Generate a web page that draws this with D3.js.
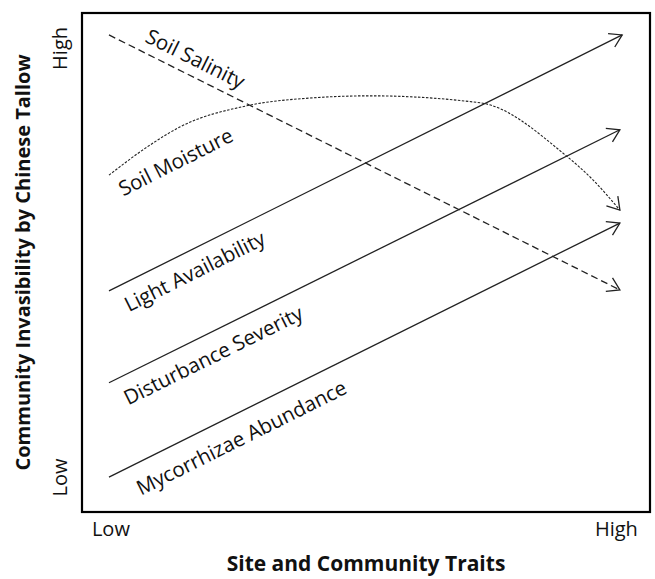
<!DOCTYPE html>
<html>
<head>
<meta charset="utf-8">
<script src="https://cdn.jsdelivr.net/npm/d3@7"></script>
<style>
  body { margin: 0; background: #fff; }
  text { font-family: "Open Sans", Lato, sans-serif; fill: #111; }
</style>
</head>
<body>
<div id="chart"></div>
<script>
// trait names, one per line in the figure
var traits = ["Soil Salinity", "Soil Moisture", "Light Availability", "Disturbance Severity", "Mycorrhizae Abundance"];

// each line as [trait level, invasibility], both on a 0-100 scale
var salinity = [[4.75, 95.6], [94.7, 44.5]];
var moisture = [[4.75, 67.5], [11.4, 73.1], [17.3, 77.2], [29.0, 81.4], [40.7, 83.0],
                [50.7, 83.4], [70.1, 82.0], [84.7, 71.9], [90.0, 66.5], [94.7, 60.5]];
var light = [[4.75, 44.3], [95.1, 95.6]];
var disturbance = [[4.75, 25.9], [94.7, 76.6]];
var mycorrhizae = [[4.75, 7.0], [94.7, 57.9]];

// axis tick labels
var levelLabels = ["Low", "High"];
var levelTicks = [5, 94];
var invasTicks = [7, 93];

var xTitle = "Site and Community Traits";
var yTitle = "Community Invasibility by Chinese Tallow";

// set the dimensions and margins of the graph
var margin = {top: 13, right: 5, bottom: 67, left: 82},
  width = 655 - margin.left - margin.right,
  height = 579 - margin.top - margin.bottom;

var svg = d3.select("#chart")
  .append("svg")
    .attr("width", 655)
    .attr("height", 579)
  .append("g")
    .attr("transform", "translate(" + margin.left + "," + margin.top + ")");

var x = d3.scaleLinear().domain([0, 100]).range([0, width]);
var y = d3.scaleLinear().domain([0, 100]).range([height, 0]);

// open arrow head
var defs = svg.append("defs");
defs.append("marker")
  .attr("id", "arrow")
  .attr("markerUnits", "userSpaceOnUse")
  .attr("viewBox", "-16 -10 20 20")
  .attr("markerWidth", 20)
  .attr("markerHeight", 20)
  .attr("refX", 0)
  .attr("refY", 0)
  .attr("orient", "auto")
  .append("path")
    .attr("d", "M-12,-7.5L0,0L-12,7.5")
    .attr("fill", "none")
    .attr("stroke", "#222")
    .attr("stroke-width", 1.3);

// frame
svg.append("rect")
  .attr("x", 0)
  .attr("y", 0)
  .attr("width", width)
  .attr("height", height)
  .attr("fill", "none")
  .attr("stroke", "#000")
  .attr("stroke-width", 2.2);

// lines (layout: label point along line, offset from line)
var series = [
  {name: traits[0], pts: salinity, dash: "7,4", curve: d3.curveLinear, at: 18.6, off: -18},
  {name: traits[1], pts: moisture, dash: "2.5,1.5", curve: d3.curveMonotoneX, at: 14.3, off: 27, angleIdx: [0, 3]},
  {name: traits[2], pts: light, dash: null, curve: d3.curveLinear, at: 18.2, off: 20},
  {name: traits[3], pts: disturbance, dash: null, curve: d3.curveLinear, at: 21.4, off: 21},
  {name: traits[4], pts: mycorrhizae, dash: null, curve: d3.curveLinear, at: 26.2, off: 23}
];

var line = d3.line()
  .x(d => x(d[0]))
  .y(d => y(d[1]));

svg.selectAll("path.trait")
  .data(series)
  .enter().append("path")
    .attr("class", "trait")
    .attr("d", d => line.curve(d.curve)(d.pts))
    .attr("fill", "none")
    .attr("stroke", "#222")
    .attr("stroke-width", d => d.dash === "2.5,1.5" ? 1.1 : 1.3)
    .attr("stroke-dasharray", d => d.dash)
    .attr("marker-end", "url(#arrow)");

// y value along a polyline at trait level v
function yAt(pts, v) {
  for (var i = 1; i < pts.length; i++) {
    if (v <= pts[i][0]) {
      var t = (v - pts[i-1][0]) / (pts[i][0] - pts[i-1][0]);
      return pts[i-1][1] + t * (pts[i][1] - pts[i-1][1]);
    }
  }
  return pts[pts.length - 1][1];
}

series.forEach(d => {
  var a = d.angleIdx ? d.pts[d.angleIdx[0]] : d.pts[0];
  var b = d.angleIdx ? d.pts[d.angleIdx[1]] : d.pts[d.pts.length - 1];
  var ang = Math.atan2(y(b[1]) - y(a[1]), x(b[0]) - x(a[0])) * 180 / Math.PI;
  svg.append("text")
    .attr("transform", "translate(" + x(d.at) + "," + y(yAt(d.pts, d.at)) + ") rotate(" + ang + ")")
    .attr("y", d.off)
    .attr("text-anchor", "middle")
    .attr("dominant-baseline", "central")
    .style("font-size", "20.5px")
    .text(d.name);
});

// axes with only Low / High labels
var xAxis = svg.append("g")
  .attr("transform", "translate(0," + height + ")")
  .call(d3.axisBottom(x).tickValues(levelTicks).tickSize(0).tickPadding(10)
    .tickFormat((v, i) => levelLabels[i]));
xAxis.select(".domain").remove();
xAxis.selectAll("text").style("font-size", "20px").attr("font-family", null);

var yAxis = svg.append("g")
  .call(d3.axisLeft(y).tickValues(invasTicks).tickSize(0).tickPadding(0)
    .tickFormat((v, i) => levelLabels[i]));
yAxis.select(".domain").remove();
yAxis.selectAll("text")
  .style("font-size", "20px")
  .attr("font-family", null)
  .attr("x", 0)
  .attr("dy", 0)
  .attr("text-anchor", "middle")
  .attr("transform", "translate(-15,0) rotate(-90)");

// axis titles
svg.append("text")
  .attr("x", width / 2)
  .attr("y", height + 59)
  .attr("text-anchor", "middle")
  .style("font-size", "21px")
  .style("font-weight", "bold")
  .text(xTitle);

svg.append("text")
  .attr("transform", "translate(-52," + (height / 2) + ") rotate(-90)")
  .attr("text-anchor", "middle")
  .style("font-size", "20px")
  .style("font-weight", "bold")
  .text(yTitle);
</script>
</body>
</html>
